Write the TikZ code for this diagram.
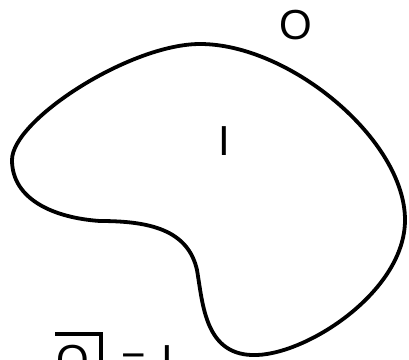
\documentclass[tikz,border=0pt]{standalone}
\usepackage{fontspec}
\setmainfont{Liberation Sans}
\begin{document}
\begin{tikzpicture}[x=1pt,y=-1pt,
  lbl/.style={font=\fontsize{42}{50}\selectfont, inner sep=0pt, anchor=base},
  outline/.style={line width=3.8pt, line join=round}]
\useasboundingbox (0,0) rectangle (409,359);
\coordinate (top) at (200,44);
\coordinate (left) at (12,160);
\coordinate (neck) at (100,221);
\coordinate (dent) at (197,270);
\coordinate (bottom) at (257,355);
\coordinate (right) at (405,220);
\draw[outline] (top)
  .. controls (130,44) and (12,120) .. (left)
  .. controls (12,200) and (55,218) .. (neck)
  .. controls (150,221) and (188,230) .. (dent)
  .. controls (203,305) and (205,357) .. (bottom)
  .. controls (310,353) and (405,290) .. (right)
  .. controls (405,140) and (290,44) .. (top) -- cycle;
\node[lbl] (o) at (296,39.5) {O};
\node[lbl] (i) at (224.5,155) {I};
\node[lbl] (ob) at (73,374) {O};
\node[lbl] (eq) at (134,374) {=};
\node[lbl] (ib) at (167.5,374) {I};
\draw[line width=4pt] (55,334) -- (100.5,334) -- (100.5,365);
\end{tikzpicture}
\end{document}
